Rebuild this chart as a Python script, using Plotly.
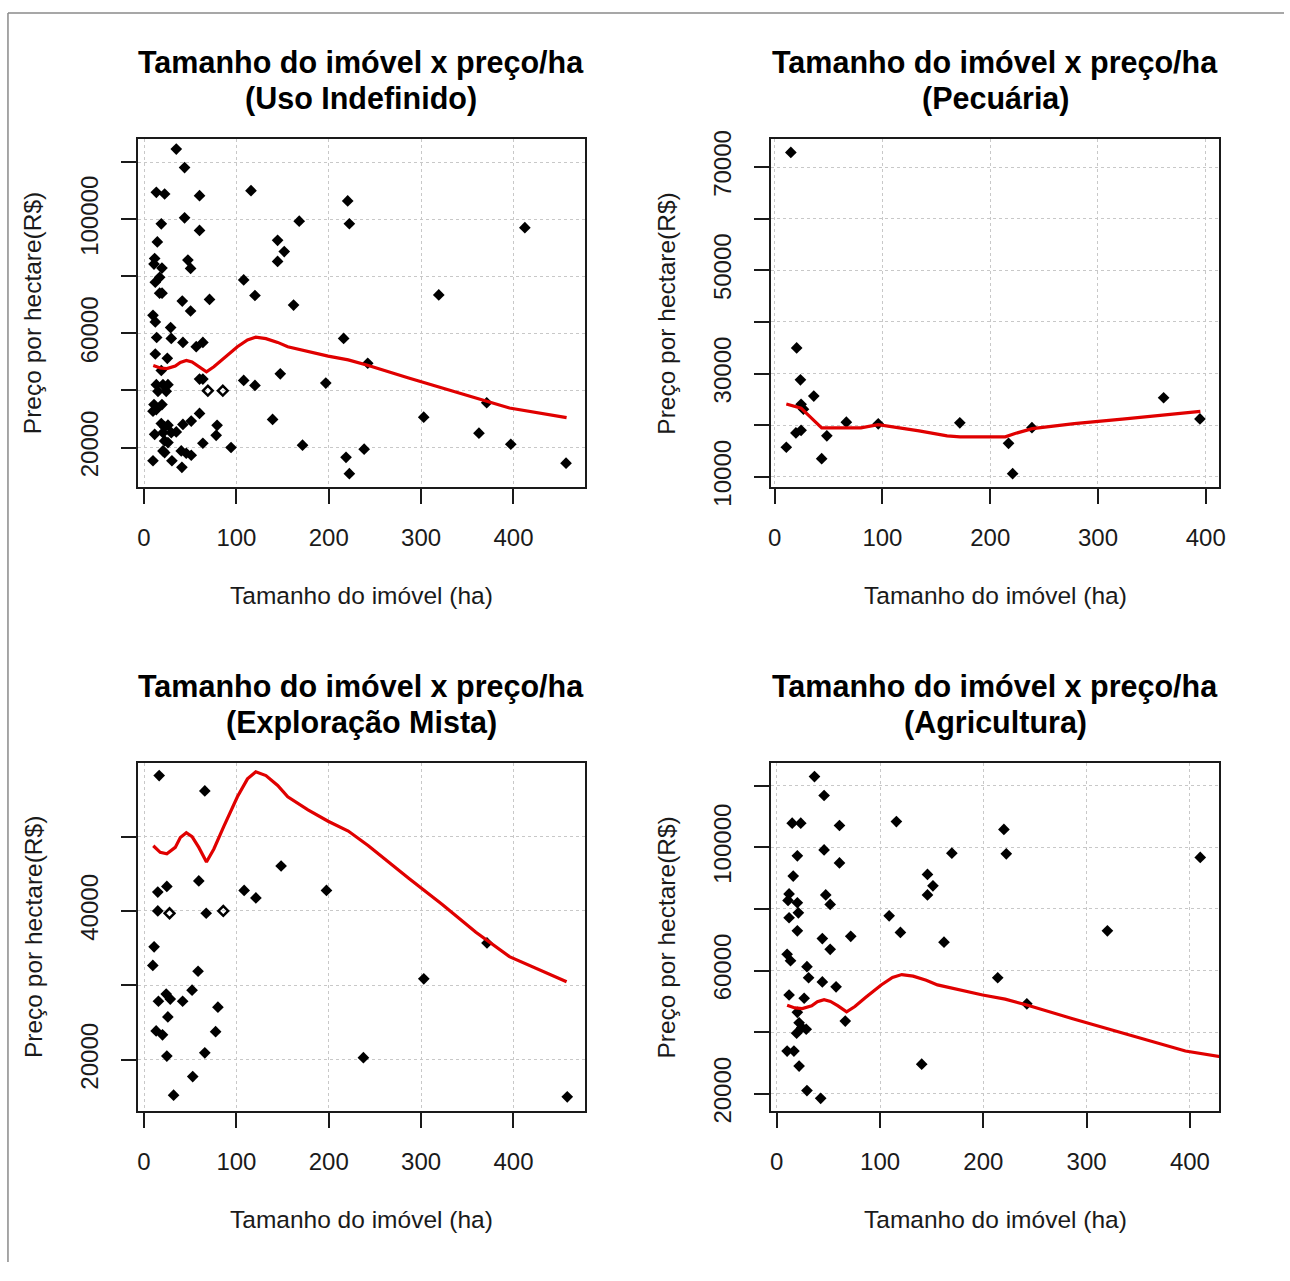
import plotly.graph_objects as go

W, H = 1290, 1281

# ---------------- data ----------------
# Uso Indefinido
uso_x = [34.9, 43.9, 13.3, 22.3, 60.1, 115.8, 43.9, 18.7, 60.1, 168, 14.4, 144.6, 151.8, 144.6, 11.5, 10.8,
         19.4, 47.5, 50.4, 16.9, 12.2, 107.9, 16.9, 19.5, 41.4, 70.9, 120.1, 161.9, 50.4, 9.7, 12.2, 28.8,
         13.7, 29.5, 42.1, 56.5, 63.7, 12.2, 25.2, 18.7, 147.5, 13.3, 20.5, 25.9, 15.1, 24, 60.1, 63.7,
         107.9, 120.1, 196.8, 10.8, 13.3, 19.4, 9.7, 60.1, 51.1, 42.1, 139.2, 18.7, 22.3, 25.9, 79.1, 78.1,
         11.5, 20.5, 29.5, 34.9, 22.3, 25.9, 63.7, 94.2, 171.6, 20.5, 22.3, 40.3, 45.7, 51.1, 9.7, 30.2, 41,
         220.5, 222.3, 412.3, 319.1, 216.1, 242.2, 302.8, 371, 362.6, 397.1, 238.3, 218.7, 222.3, 456.9]
uso_y = [124660, 118170, 109480, 108900, 108320, 110060, 100550, 98460, 96150, 99390, 92090, 92670, 88730,
         85250, 86290, 84320, 82930, 85720, 82820, 79690, 77950, 78760, 74130, 74130, 71340, 71920, 73310,
         69950, 67870, 66360, 64040, 62070, 58590, 58250, 56860, 55350, 56860, 52800, 51290, 47000, 45850,
         42020, 42020, 42020, 39700, 39700, 43990, 43990, 43530, 41790, 42600, 35070, 33300, 35070, 32750,
         31940, 29270, 28110, 29850, 28400, 27250, 27850, 27770, 24290, 24640, 25220, 25220, 25450, 22310,
         21730, 21500, 20000, 20810, 18800, 18220, 18800, 17990, 17290, 15360, 15360, 13050,
         106490, 98470, 97090, 73500, 58260, 49550, 30650, 35690, 25040, 21150, 19430, 16560, 10840, 14500]
uso_open_x = [69.1, 85.3]
uso_open_y = [39930, 39930]

# Pecuária
pec_x = [15, 20.4, 23.9, 36.3, 24.5, 26.7, 10.8, 19.7, 24.5, 43.6, 48.4, 66.5, 96.1, 171.8, 217, 220.8,
         238.7, 360.9, 394.6]
pec_y = [72840, 34980, 28800, 25650, 24070, 23120, 15740, 18520, 19020, 13530, 17950, 20600, 20280, 20470,
         16500, 10630, 19530, 25330, 21230]
pec_fit_x = [10.8, 24.5, 43.6, 80, 96, 112, 134, 160, 172, 214, 223, 239, 278, 325, 363, 395]
pec_fit_y = [24100, 23300, 19500, 19500, 20100, 19650, 18900, 17950, 17750, 17750, 18400, 19350, 20300,
             21250, 22000, 22700]

# Exploração Mista
mista_x = [16.4, 65.8, 148.4, 14.9, 24.7, 59.3, 108.4, 121.1, 197.5, 14.9, 67.3, 10.9, 9.5, 58.5, 371.3,
           302.9, 52, 24, 28.4, 15.6, 41.8, 80, 25.8, 13.1, 20, 77.5, 24.7, 65.8, 237.5, 52.7, 32, 458.2]
mista_y = [58180, 56120, 46040, 42540, 43290, 44030, 42760, 41750, 42760, 40000, 39690, 35180, 32690, 31900,
           35710, 30890, 29360, 28830, 28170, 27870, 27870, 27080, 25770, 23880, 23360, 23790, 20510, 20950,
           20290, 17750, 15250, 15030]
mista_open_x = [27.6, 85.8]
mista_open_y = [39690, 40000]

# Agricultura
agri_x = [36.5, 45.8, 14.9, 23.2, 60.7, 115.8, 219.9, 45.8, 19.9, 60.7, 169.5, 222.2, 410, 15.9, 145.9,
          151.2, 145.9, 11.9, 10.9, 19.9, 47.4, 51.7, 20.9, 11.9, 108.8, 19.9, 119.7, 320.1, 44.1, 71.6,
          51.7, 161.9, 10, 13.3, 29.2, 30.8, 44.1, 57.4, 213.9, 11.9, 26.5, 242.1, 19.9, 21.6, 24.2, 28.5,
          19.2, 66.3, 10, 16.6, 21.6, 140.3, 29.2, 42.5]
agri_y = [122940, 116810, 107810, 107810, 107070, 108340, 105800, 99140, 97230, 94910, 98080, 97870, 96710,
          90670, 91200, 87500, 84540, 84860, 82740, 82000, 84540, 81470, 78720, 77130, 77770, 72900, 72370,
          72900, 70360, 71100, 66870, 69200, 65280, 63170, 61260, 57660, 56290, 54700, 57660, 52060, 51000,
          49200, 46450, 43060, 41480, 40950, 39680, 43590, 33860, 33860, 28990, 29630, 21060, 18520]

# smoothed curve shared by Uso Indefinido, Exploração Mista and Agricultura
fit_x = [10, 17.5, 24.7, 33.8, 39.3, 45.8, 52, 59.3, 67.6, 75.6, 86.5, 101.1, 112, 121, 132, 144.7, 155.6,
         177.5, 199.3, 221.1, 242.9, 286.5, 322.9, 359.3, 395.6, 457.5]
fit_y = [48760, 47880, 47670, 48540, 49860, 50510, 49990, 48540, 46570, 48320, 51390, 55330, 57740, 58700,
         58180, 56860, 55330, 53580, 52050, 50730, 48760, 44380, 40880, 37150, 33870, 30500]

titles = ["(Uso Indefinido)", "(Pecuária)", "(Exploração Mista)", "(Agricultura)"]
main_title = "Tamanho do imóvel x preço/ha"
x_label = "Tamanho do imóvel (ha)"
y_label = "Preço por hectare(R$)"

x_ticks = [0, 100, 200, 300, 400]
y_ticks = [
    [20000, 40000, 60000, 80000, 100000, 120000],
    [10000, 20000, 30000, 40000, 50000, 60000, 70000],
    [20000, 30000, 40000, 50000],
    [20000, 40000, 60000, 80000, 100000, 120000],
]
y_tick_text = [
    ["20000", "", "60000", "", "100000", ""],
    ["10000", "", "30000", "", "50000", "", "70000"],
    ["20000", "", "40000", ""],
    ["20000", "", "60000", "", "100000", ""],
]
x_ranges = [[-6.8, 477], [-3.5, 412.7], [-6.8, 477], [-5.7, 428.6]]
y_ranges = [[6040, 128060], [7980, 75360], [13080, 59855], [14300, 127300]]

# ---------------- layout geometry (pixels) ----------------
col_px = [(135.7, 585.7), (773.3, 1225.0)]
row_px = [(133.3, 489.0), (771.0, 1127.0)]

FONT = "Liberation Sans, Arial, sans-serif"
INK = "#1a1a1a"

fig = go.Figure()

panels = [
    (uso_x, uso_y, uso_open_x, uso_open_y, fit_x, fit_y),
    (pec_x, pec_y, [], [], pec_fit_x, pec_fit_y),
    (mista_x, mista_y, mista_open_x, mista_open_y, fit_x, fit_y),
    (agri_x, agri_y, [], [], fit_x, fit_y),
]

annotations = []
for i, (px, py, ox, oy, fx, fy) in enumerate(panels):
    r, c = divmod(i, 2)
    xa = "x" if i == 0 else f"x{i+1}"
    ya = "y" if i == 0 else f"y{i+1}"
    fig.add_trace(go.Scatter(x=px, y=py, mode="markers", xaxis=xa, yaxis=ya,
                             marker=dict(symbol="diamond", size=9, color="black",
                                         line=dict(width=0)),
                             showlegend=False, hoverinfo="x+y"))
    if ox:
        fig.add_trace(go.Scatter(x=ox, y=oy, mode="markers", xaxis=xa, yaxis=ya,
                                 marker=dict(symbol="diamond-open", size=7.5, color="black",
                                             line=dict(width=2.5, color="black")),
                                 showlegend=False, hoverinfo="x+y"))
    fig.add_trace(go.Scatter(x=fx, y=fy, mode="lines", xaxis=xa, yaxis=ya,
                             line=dict(color="#e00000", width=3.2),
                             showlegend=False, hoverinfo="skip"))

    x0, x1 = col_px[c]
    y0, y1 = row_px[r]
    axis_common = dict(showline=True, mirror=True, linecolor=INK, linewidth=2,
                       ticks="outside", ticklen=15, tickwidth=2, tickcolor=INK,
                       showgrid=True, gridcolor="#c8c8c8", gridwidth=1, griddash="3px,3px",
                       zeroline=False, tickfont=dict(family=FONT, size=24, color=INK))
    fig.layout[("xaxis" if i == 0 else f"xaxis{i+1}")] = dict(
        axis_common, domain=[x0 / W, x1 / W], range=x_ranges[i], anchor=ya,
        tickmode="array", tickvals=x_ticks, ticktext=[str(v) for v in x_ticks],
        ticklabelstandoff=13)
    fig.layout[("yaxis" if i == 0 else f"yaxis{i+1}")] = dict(
        axis_common, domain=[1 - y1 / H, 1 - y0 / H], range=y_ranges[i], anchor=xa,
        tickmode="array", tickvals=y_ticks[i], ticktext=y_tick_text[i], tickangle=-90,
        ticklabelstandoff=13)

    cx = (x0 + x1) / 2
    title_y = 55 + r * 638
    annotations.append(dict(text=f"<b>{main_title}</b>", x=cx / W, y=1 - title_y / H,
                            xref="paper", yref="paper", showarrow=False,
                            xanchor="center", yanchor="middle",
                            font=dict(family=FONT, size=30.5, color="black")))
    annotations.append(dict(text=f"<b>{titles[i]}</b>", x=cx / W, y=1 - (title_y + 36) / H,
                            xref="paper", yref="paper", showarrow=False,
                            xanchor="center", yanchor="middle",
                            font=dict(family=FONT, size=30.5, color="black")))
    annotations.append(dict(text=x_label, x=cx / W, y=1 - (600 + r * 638) / H,
                            xref="paper", yref="paper", showarrow=False,
                            xanchor="center", yanchor="middle",
                            font=dict(family=FONT, size=24.5, color=INK)))
    annotations.append(dict(text=y_label, x=(30 + c * 638) / W, y=1 - ((y0 + y1) / 2) / H,
                            xref="paper", yref="paper", showarrow=False, textangle=-90,
                            xanchor="center", yanchor="middle",
                            font=dict(family=FONT, size=24.5, color=INK)))

shapes = [
    dict(type="line", xref="paper", yref="paper", x0=5 / W, x1=1, y0=1 - 4 / H, y1=1 - 4 / H,
         line=dict(color="#8a8a8a", width=1.5)),
    dict(type="line", xref="paper", yref="paper", x0=5 / W, x1=5 / W, y0=0, y1=1 - 4 / H,
         line=dict(color="#8a8a8a", width=1.5)),
]

fig.update_layout(width=W, height=H, margin=dict(l=0, r=0, t=0, b=0),
                  paper_bgcolor="white", plot_bgcolor="white",
                  annotations=annotations, shapes=shapes, showlegend=False)

fig.write_html("out.html")
